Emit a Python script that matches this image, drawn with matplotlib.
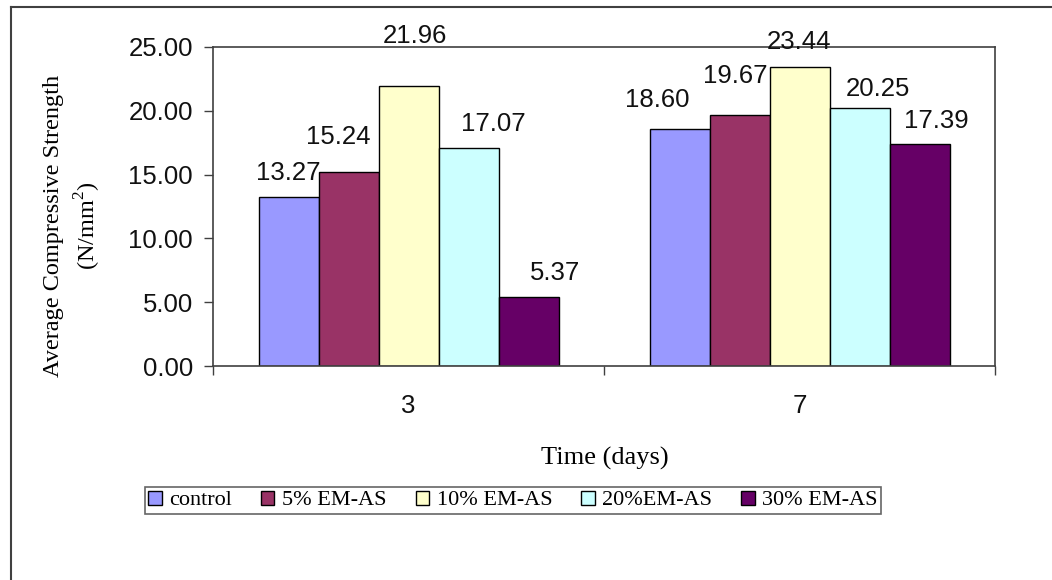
import numpy as np
import matplotlib.pyplot as plt
from matplotlib.lines import Line2D

# ---------------------------------------------------------------
# Data: average compressive strength (N/mm2) at 3 and 7 days
# ---------------------------------------------------------------

days = ["3", "7"]
series = ["control", "5% EM-AS", "10% EM-AS", "20%EM-AS", "30% EM-AS"]
strength = [
    [13.27, 18.60],   # control
    [15.24, 19.67],   # 5% EM-AS
    [21.96, 23.44],   # 10% EM-AS
    [17.07, 20.25],   # 20%EM-AS
    [5.37, 17.39],    # 30% EM-AS
]
colors = ["#9999FF", "#993366", "#FFFFCC", "#CCFFFF", "#660066"]

# label nudges (pixels) as placed in the original chart: [series][day]
label_dx = [[0, -22], [-10, -4], [6, -1], [25, 18], [27, 17]]
label_dy = [[17, 22], [28, 32], [43, 18], [17, 12], [17, 16]]

plt.rcParams['mathtext.fontset'] = 'custom'
plt.rcParams['mathtext.rm'] = 'Liberation Serif'

W, H = 1052, 580
fig = plt.figure(figsize=(W / 100, H / 100), dpi=100)
ax = fig.add_axes([213 / W, 1 - 366 / H, (995 - 213) / W, (366 - 47) / H])

# outer chart-area border (left and top visible)
fig.add_artist(Line2D([11 / W, 11 / W], [-0.1, 1 - 7 / H], transform=fig.transFigure,
                      color="#404040", lw=1.5))
fig.add_artist(Line2D([11 / W, 1.1], [1 - 7 / H, 1 - 7 / H], transform=fig.transFigure,
                      color="#404040", lw=1.5))

x = np.arange(len(days))
width = 60 / 391.0
num_font = "Liberation Sans"
px2pt = 72 / 100

for i, name in enumerate(series):
    pos = x + (i - 2) * width
    ax.bar(pos, strength[i], width, color=colors[i], edgecolor="black",
           linewidth=1.0, label=name)
    for j, v in enumerate(strength[i]):
        ax.annotate("%.2f" % v, (pos[j], v),
                    xytext=(label_dx[i][j] * px2pt, label_dy[i][j] * px2pt),
                    textcoords="offset points", ha="center", va="baseline",
                    fontsize=18.5, family=num_font, color="#111111",
                    annotation_clip=False)

ax.set_xlim(-0.5, 1.5)
ax.set_ylim(0, 25)
ax.set_yticks(np.arange(0, 26, 5))
ax.set_yticklabels(["%.2f" % t for t in np.arange(0, 26, 5)],
                   fontsize=18.5, family=num_font, color="#111111")
ax.tick_params(axis="y", direction="out", length=6.5, width=1, pad=8, color="#404040")

ax.set_xticks([-0.5, 0.5, 1.5])
ax.set_xticklabels([])
ax.tick_params(axis="x", which="major", direction="out", length=6.5, width=1, color="#404040")
ax.set_xticks(x, minor=True)
ax.set_xticklabels(days, minor=True, fontsize=18.5, family=num_font, color="#111111")
ax.tick_params(axis="x", which="minor", length=0, pad=20)

for s in ax.spines.values():
    s.set_color("#404040")
    s.set_linewidth(1.2)

fig.text(73 / W, 1 - 226 / H, "Average Compressive Strength\n(N/mm$^{2}$)",
         rotation=90, ha="center", va="center", multialignment="center",
         fontsize=17.5, family="Liberation Serif", linespacing=1.4)
fig.text(605 / W, 1 - 458 / H, "Time (days)", ha="center", va="center",
         fontsize=19, family="Liberation Serif")

leg = fig.legend(loc="center", bbox_to_anchor=(513 / W, 1 - 500.5 / H), ncol=5,
                 frameon=True, fancybox=False, borderpad=0.15, handlelength=0.6,
                 handleheight=0.6, handletextpad=0.35, columnspacing=1.3,
                 borderaxespad=0, prop={"family": "Liberation Serif", "size": 16})
leg.get_frame().set_edgecolor("#404040")
leg.get_frame().set_linewidth(1.2)

fig.savefig("out.png", dpi=100)
